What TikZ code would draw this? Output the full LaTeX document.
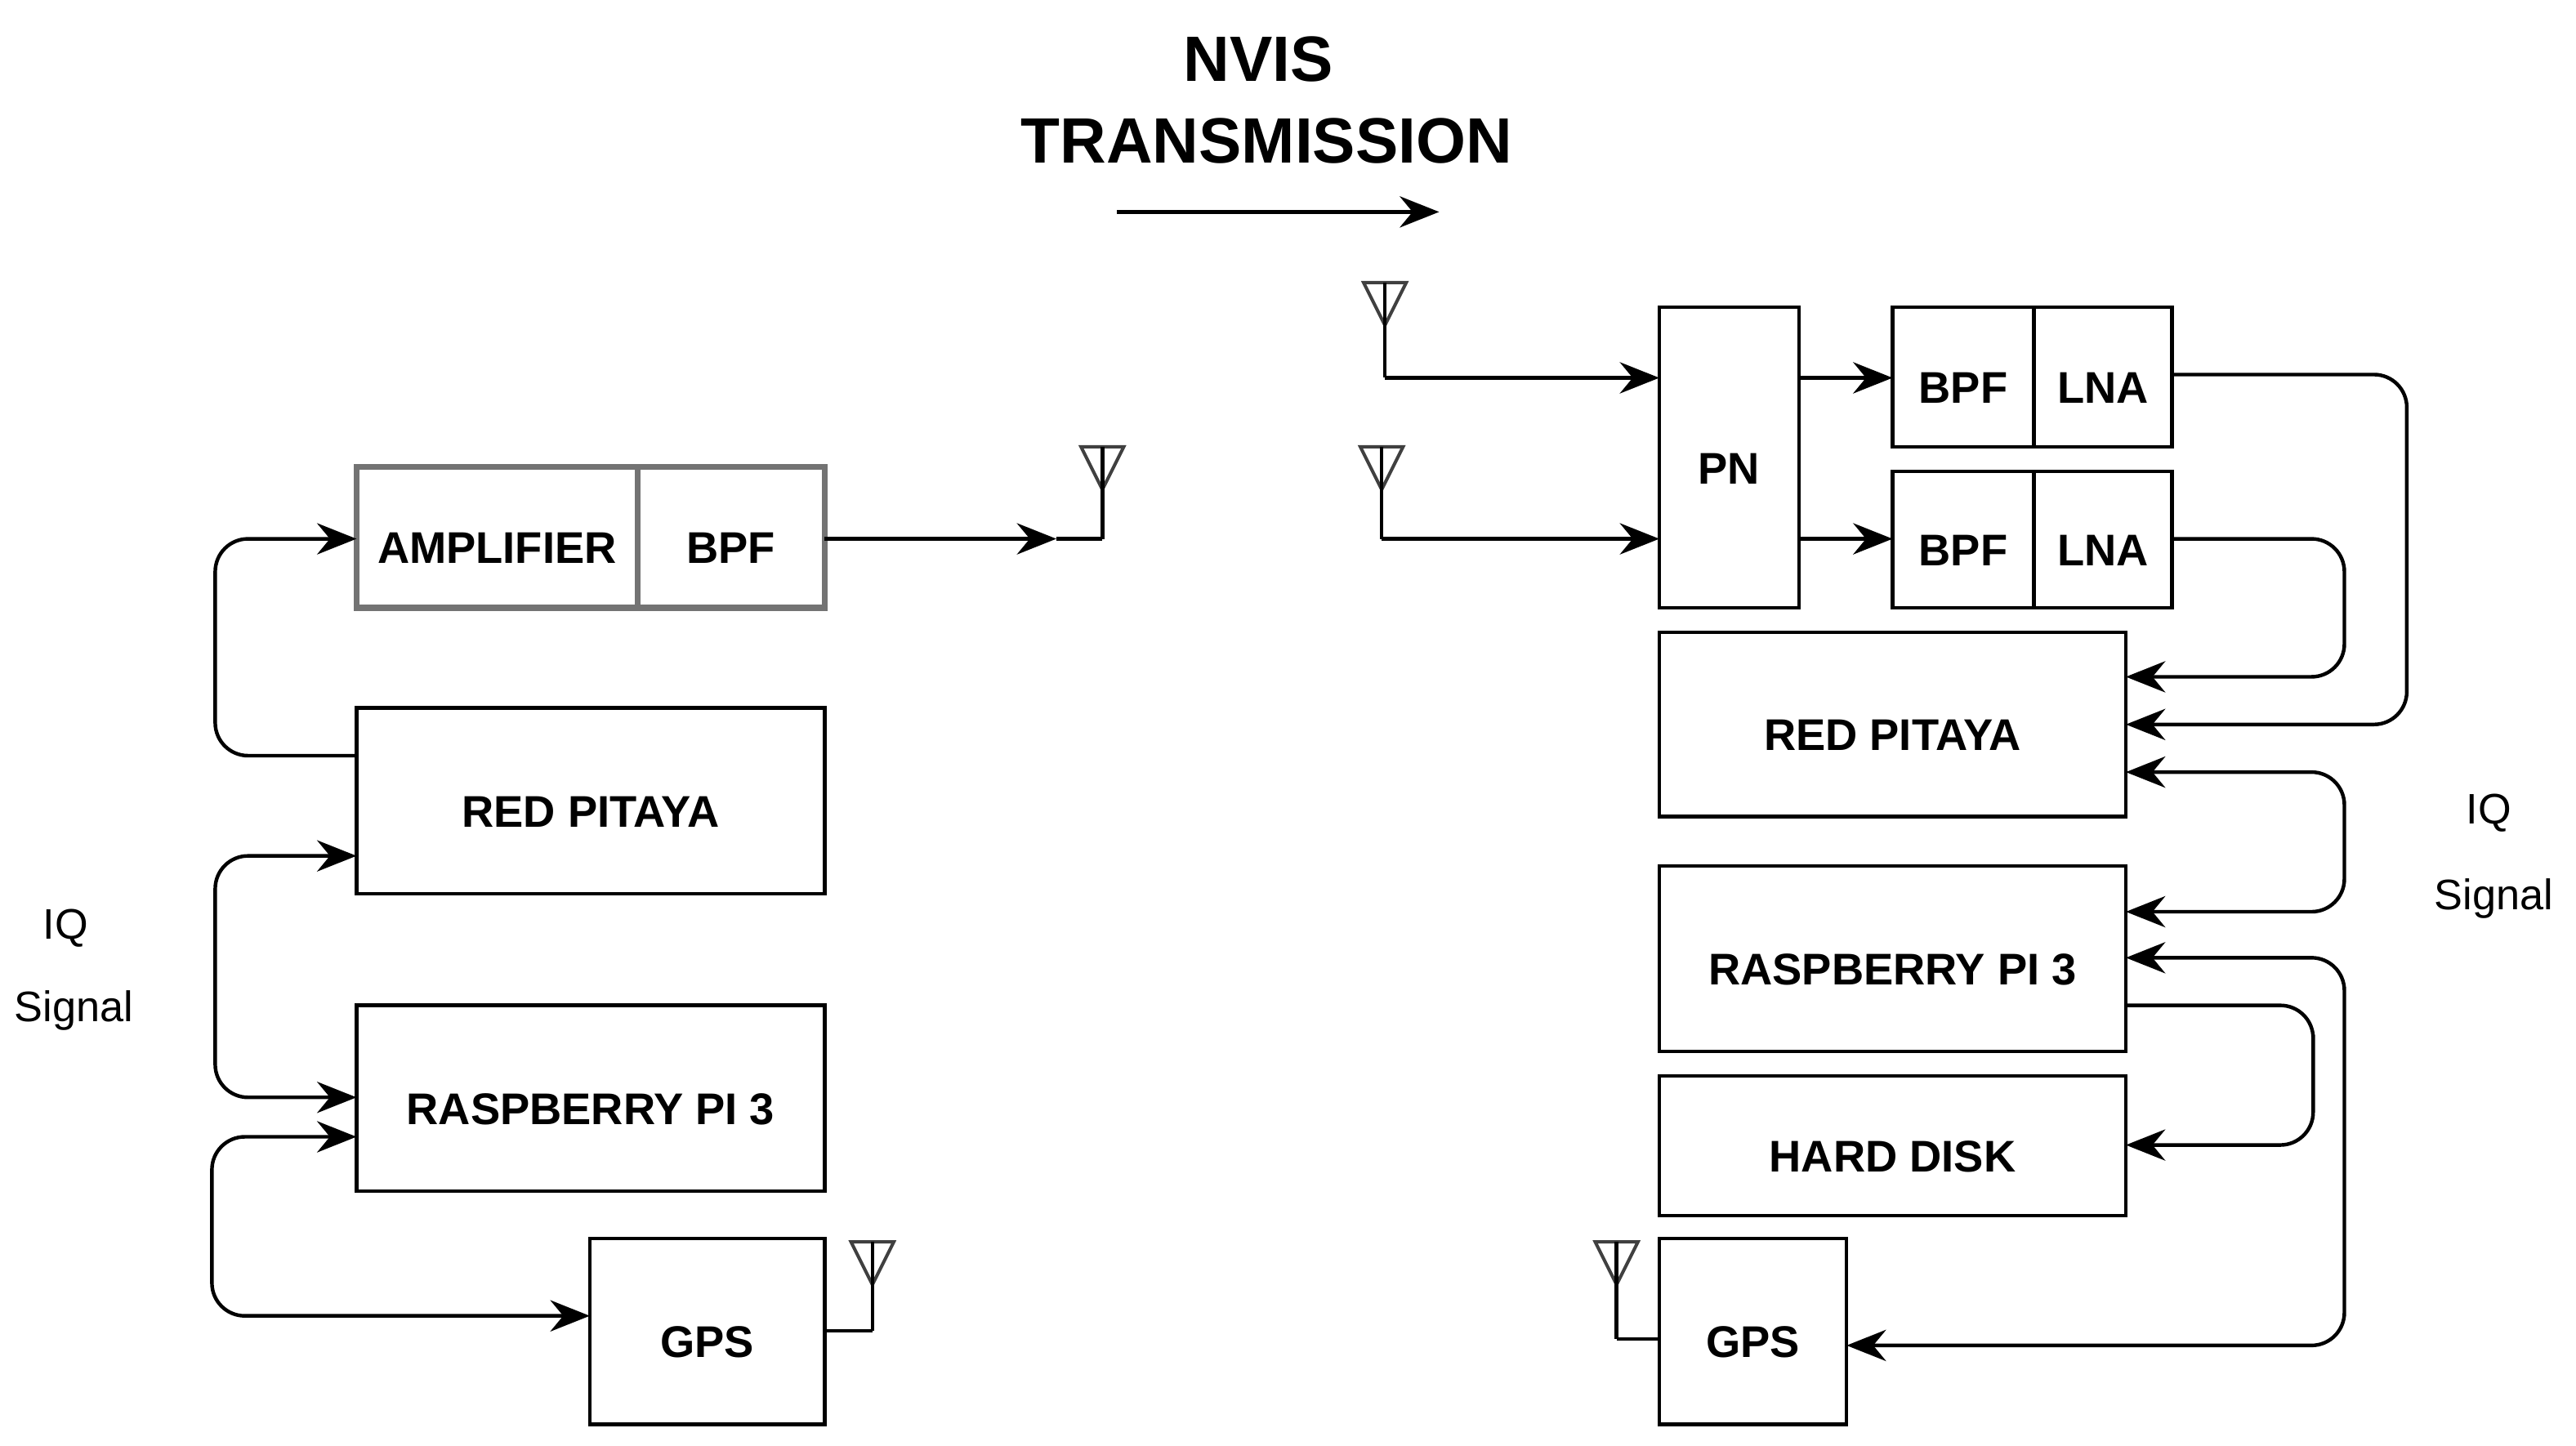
\documentclass[tikz,border=0pt]{standalone}
\usepackage{fontspec}
\setmainfont{Liberation Sans}
\usetikzlibrary{arrows.meta}
\begin{document}
\begin{tikzpicture}[x=1pt,y=-1pt,
  box/.style={draw=black,line width=2.2pt,inner sep=0pt,outer sep=0pt,anchor=north west,
    text height=32pt,text depth=0pt,font=\bfseries\fontsize{27}{27}\selectfont},
  gbox/.style={box,draw=black!55,line width=3.5pt},
  con/.style={line width=2.2pt,rounded corners=20pt,-{Stealth[length=24pt,width=19pt]}},
  dcon/.style={con,{Stealth[length=24pt,width=19pt]}-{Stealth[length=24pt,width=19pt]}},
  ant/.style={line width=2pt,draw=black!75},
  lab/.style={font=\fontsize{26}{26}\selectfont}]
\useasboundingbox (0,0) rectangle (1568,880);
% left boxes
\node[gbox,minimum width=171pt,minimum height=86pt] (amp) at (217,284) {AMPLIFIER};
\node[gbox,minimum width=114pt,minimum height=86pt] (bpfL) at (388,284) {BPF};
\node[box,minimum width=285pt,minimum height=113pt] (rpL) at (217,431) {RED PITAYA};
\node[box,minimum width=285pt,minimum height=113pt] (raL) at (217,612) {RASPBERRY PI 3};
\node[box,minimum width=143pt,minimum height=113pt] (gpsL) at (359,754) {GPS};
% right boxes
\node[box,minimum width=85pt,minimum height=183pt] (pn) at (1010,187) {PN};
\node[box,minimum width=86pt,minimum height=85pt] (bpf1) at (1152,187) {BPF};
\node[box,minimum width=84pt,minimum height=85pt] (lna1) at (1238,187) {LNA};
\node[box,minimum width=86pt,minimum height=83pt] (bpf2) at (1152,287) {BPF};
\node[box,minimum width=84pt,minimum height=83pt] (lna2) at (1238,287) {LNA};
\node[box,minimum width=284pt,minimum height=112pt] (rpR) at (1010,385) {RED PITAYA};
\node[box,minimum width=284pt,minimum height=113pt] (raR) at (1010,527) {RASPBERRY PI 3};
\node[box,minimum width=284pt,minimum height=85pt] (hd) at (1010,655) {HARD DISK};
\node[box,minimum width=114pt,minimum height=113pt] (gpsR) at (1010,754) {GPS};
% title
\node[font=\bfseries\fontsize{39}{39}\selectfont] (t1) at (766,36) {NVIS};
\node[font=\bfseries\fontsize{39}{39}\selectfont] (t2) at (771,86) {TRANSMISSION};
\coordinate (ta) at (680,129); \coordinate (tb) at (876,129);
\draw[con] (ta) -- (tb);
% IQ labels
\node[lab] (iqL) at (40,565) {IQ};
\node[lab] (sgL) at (45,615) {Signal};
\node[lab] (iqR) at (1515,495) {IQ};
\node[lab] (sgR) at (1518,547) {Signal};
% antennas
\foreach \n/\x/\t/\e in {aL/671/272/328, aG/531/756/810, a1/843/172/230, a2/841/272/328, aR/984/756/815}{
  \draw[ant] (\x-13,\t) -- (\x+13,\t) -- (\x,\t+26) -- cycle;
  \coordinate (\n) at (\x,\e);
  \draw[line width=2.2pt] (\x,\t) -- (\n);
}
% left connectors
\coordinate (aLe) at (643,328);
\draw[con] (bpfL.east |- 0,328) -- (aLe);
\draw[line width=2.2pt] (aLe) -- (aL);
\draw[line width=2.2pt] (gpsL.east |- 0,810) -- (aG);
\draw[con] (rpL.west |- 0,460) -| (131,400) |- (amp.west |- 0,328);
\draw[dcon] (rpL.west |- 0,521) -| (131,600) |- (raL.west |- 0,668);
\draw[dcon] (raL.west |- 0,692) -| (129,750) |- (gpsL.west |- 0,801);
% right connectors
\draw[con] (a1) -- (pn.west |- 0,230);
\draw[con] (a2) -- (pn.west |- 0,328);
\draw[con] (pn.east |- 0,230) -- (bpf1.west |- 0,230);
\draw[con] (pn.east |- 0,328) -- (bpf2.west |- 0,328);
\draw[con] (lna1.east |- 0,228) -| (1465,330) |- (rpR.east |- 0,441);
\draw[con] (lna2.east |- 0,328) -| (1427,370) |- (rpR.east |- 0,412);
\draw[dcon] (rpR.east |- 0,470) -| (1427,510) |- (raR.east |- 0,555);
\draw[dcon] (raR.east |- 0,583) -| (1427,700) |- (gpsR.east |- 0,819);
\draw[con] (raR.east |- 0,612) -| (1408,650) |- (hd.east |- 0,697);
\draw[line width=2.2pt] (aR) -- (gpsR.west |- 0,815);
\end{tikzpicture}
\end{document}
